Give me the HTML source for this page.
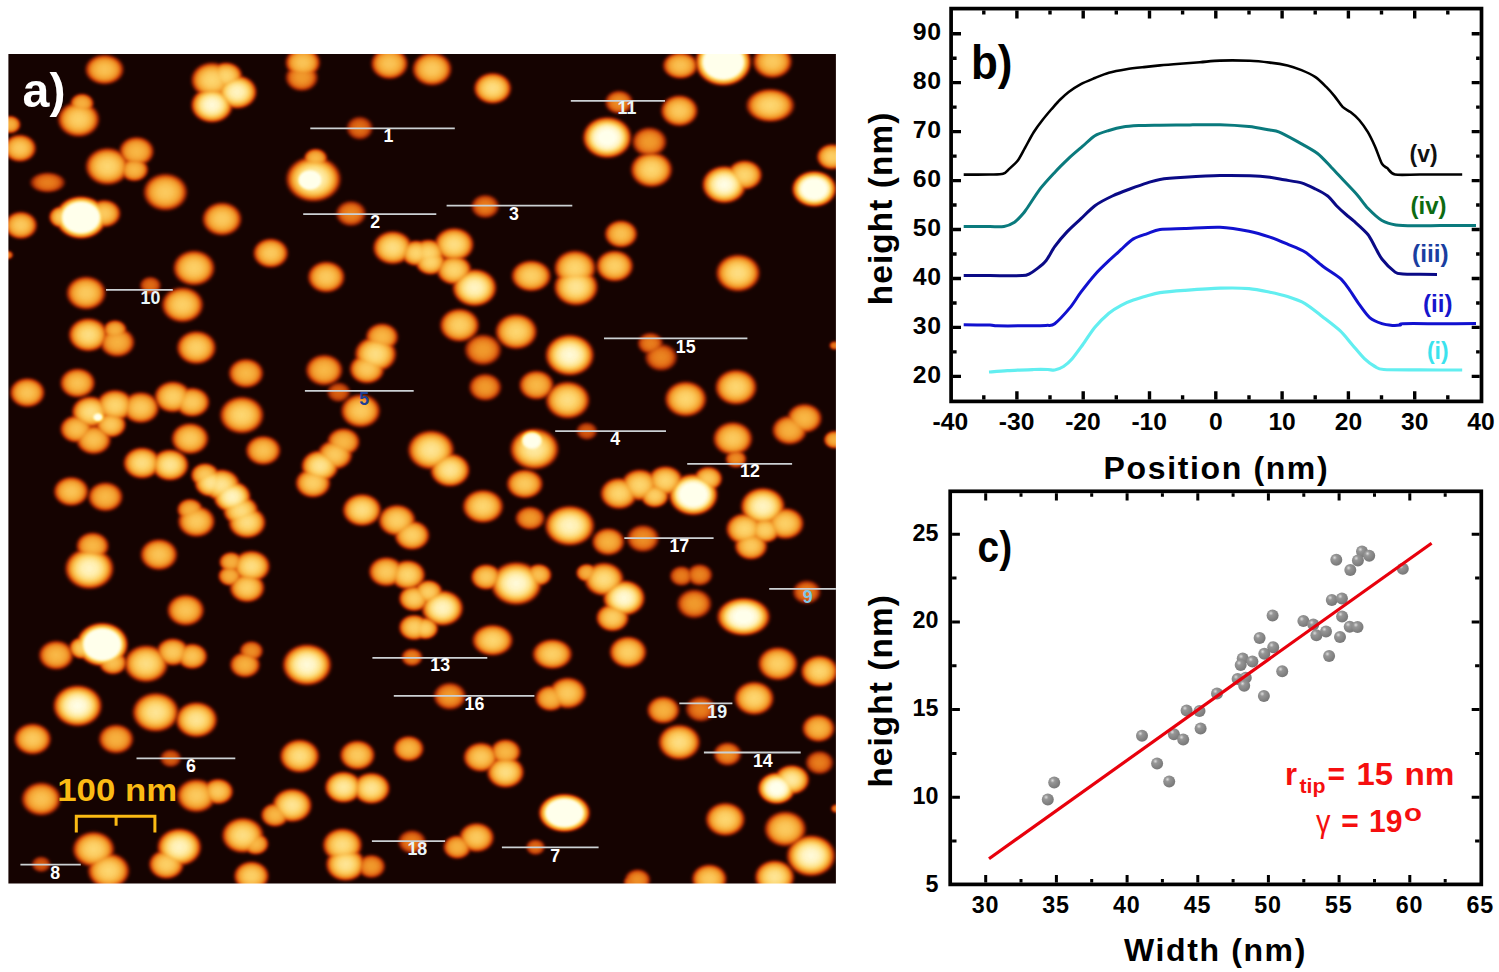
<!DOCTYPE html>
<html><head><meta charset="utf-8"><title>figure</title>
<style>html,body{margin:0;padding:0;background:#fff}body{width:1499px;height:972px;overflow:hidden;position:relative}svg{position:absolute;left:0;top:0;display:block}text{font-family:"Liberation Sans",sans-serif}.b{mix-blend-mode:lighten}</style></head><body>
<svg width="1499" height="972" viewBox="0 0 1499 972">
<defs>
<filter id="cmap" x="0" y="0" width="1499" height="972" filterUnits="userSpaceOnUse" color-interpolation-filters="sRGB"><feGaussianBlur stdDeviation="0.9"/><feComponentTransfer><feFuncR type="table" tableValues="0.086 0.235 0.424 0.620 0.792 0.894 0.941 0.973 0.992 1.000 1.000"/><feFuncG type="table" tableValues="0.012 0.047 0.106 0.184 0.306 0.447 0.588 0.706 0.824 0.925 1.000"/><feFuncB type="table" tableValues="0.004 0.008 0.016 0.027 0.047 0.094 0.165 0.259 0.412 0.647 0.922"/></feComponentTransfer></filter>
<clipPath id="afmclip"><rect x="8.4" y="53.9" width="827.5" height="829.7"/></clipPath>
<radialGradient id="g40"><stop offset="0" stop-color="#707070"/><stop offset="0.3" stop-color="#6c6c6c"/><stop offset="0.5" stop-color="#636363"/><stop offset="0.65" stop-color="#545454"/><stop offset="0.78" stop-color="#3a3a3a"/><stop offset="0.88" stop-color="#1f1f1f"/><stop offset="0.95" stop-color="#0b0b0b"/><stop offset="1" stop-color="#000000"/></radialGradient>
<radialGradient id="g42"><stop offset="0" stop-color="#757575"/><stop offset="0.3" stop-color="#717171"/><stop offset="0.5" stop-color="#676767"/><stop offset="0.65" stop-color="#585858"/><stop offset="0.78" stop-color="#3d3d3d"/><stop offset="0.88" stop-color="#212121"/><stop offset="0.95" stop-color="#0c0c0c"/><stop offset="1" stop-color="#000000"/></radialGradient>
<radialGradient id="g45"><stop offset="0" stop-color="#7d7d7d"/><stop offset="0.3" stop-color="#787878"/><stop offset="0.5" stop-color="#6e6e6e"/><stop offset="0.65" stop-color="#5e5e5e"/><stop offset="0.78" stop-color="#414141"/><stop offset="0.88" stop-color="#232323"/><stop offset="0.95" stop-color="#0c0c0c"/><stop offset="1" stop-color="#000000"/></radialGradient>
<radialGradient id="g46"><stop offset="0" stop-color="#808080"/><stop offset="0.3" stop-color="#7a7a7a"/><stop offset="0.5" stop-color="#707070"/><stop offset="0.65" stop-color="#606060"/><stop offset="0.78" stop-color="#424242"/><stop offset="0.88" stop-color="#242424"/><stop offset="0.95" stop-color="#0d0d0d"/><stop offset="1" stop-color="#000000"/></radialGradient>
<radialGradient id="g50"><stop offset="0" stop-color="#8a8a8a"/><stop offset="0.3" stop-color="#848484"/><stop offset="0.5" stop-color="#797979"/><stop offset="0.65" stop-color="#676767"/><stop offset="0.78" stop-color="#484848"/><stop offset="0.88" stop-color="#272727"/><stop offset="0.95" stop-color="#0e0e0e"/><stop offset="1" stop-color="#000000"/></radialGradient>
<radialGradient id="g52"><stop offset="0" stop-color="#8f8f8f"/><stop offset="0.3" stop-color="#898989"/><stop offset="0.5" stop-color="#7e7e7e"/><stop offset="0.65" stop-color="#6b6b6b"/><stop offset="0.78" stop-color="#4a4a4a"/><stop offset="0.88" stop-color="#282828"/><stop offset="0.95" stop-color="#0e0e0e"/><stop offset="1" stop-color="#000000"/></radialGradient>
<radialGradient id="g55"><stop offset="0" stop-color="#969696"/><stop offset="0.3" stop-color="#909090"/><stop offset="0.5" stop-color="#848484"/><stop offset="0.65" stop-color="#717171"/><stop offset="0.78" stop-color="#4e4e4e"/><stop offset="0.88" stop-color="#2a2a2a"/><stop offset="0.95" stop-color="#0f0f0f"/><stop offset="1" stop-color="#000000"/></radialGradient>
<radialGradient id="g58"><stop offset="0" stop-color="#9e9e9e"/><stop offset="0.3" stop-color="#989898"/><stop offset="0.5" stop-color="#8b8b8b"/><stop offset="0.65" stop-color="#777777"/><stop offset="0.78" stop-color="#525252"/><stop offset="0.88" stop-color="#2c2c2c"/><stop offset="0.95" stop-color="#101010"/><stop offset="1" stop-color="#000000"/></radialGradient>
<radialGradient id="g60"><stop offset="0" stop-color="#b2b2b2"/><stop offset="0.3" stop-color="#ababab"/><stop offset="0.5" stop-color="#9d9d9d"/><stop offset="0.65" stop-color="#868686"/><stop offset="0.78" stop-color="#5d5d5d"/><stop offset="0.88" stop-color="#323232"/><stop offset="0.95" stop-color="#121212"/><stop offset="1" stop-color="#000000"/></radialGradient>
<radialGradient id="g62"><stop offset="0" stop-color="#b8b8b8"/><stop offset="0.3" stop-color="#b0b0b0"/><stop offset="0.5" stop-color="#a2a2a2"/><stop offset="0.65" stop-color="#8a8a8a"/><stop offset="0.78" stop-color="#5f5f5f"/><stop offset="0.88" stop-color="#333333"/><stop offset="0.95" stop-color="#121212"/><stop offset="1" stop-color="#000000"/></radialGradient>
<radialGradient id="g65"><stop offset="0" stop-color="#bfbfbf"/><stop offset="0.3" stop-color="#b8b8b8"/><stop offset="0.5" stop-color="#a8a8a8"/><stop offset="0.65" stop-color="#8f8f8f"/><stop offset="0.78" stop-color="#636363"/><stop offset="0.88" stop-color="#363636"/><stop offset="0.95" stop-color="#131313"/><stop offset="1" stop-color="#000000"/></radialGradient>
<radialGradient id="g66"><stop offset="0" stop-color="#c2c2c2"/><stop offset="0.3" stop-color="#bababa"/><stop offset="0.5" stop-color="#ababab"/><stop offset="0.65" stop-color="#919191"/><stop offset="0.78" stop-color="#656565"/><stop offset="0.88" stop-color="#363636"/><stop offset="0.95" stop-color="#131313"/><stop offset="1" stop-color="#000000"/></radialGradient>
<radialGradient id="g68"><stop offset="0" stop-color="#c7c7c7"/><stop offset="0.3" stop-color="#bfbfbf"/><stop offset="0.5" stop-color="#afafaf"/><stop offset="0.65" stop-color="#959595"/><stop offset="0.78" stop-color="#676767"/><stop offset="0.88" stop-color="#383838"/><stop offset="0.95" stop-color="#141414"/><stop offset="1" stop-color="#000000"/></radialGradient>
<radialGradient id="g70"><stop offset="0" stop-color="#cccccc"/><stop offset="0.3" stop-color="#c4c4c4"/><stop offset="0.5" stop-color="#b4b4b4"/><stop offset="0.65" stop-color="#999999"/><stop offset="0.78" stop-color="#6a6a6a"/><stop offset="0.88" stop-color="#393939"/><stop offset="0.95" stop-color="#141414"/><stop offset="1" stop-color="#000000"/></radialGradient>
<radialGradient id="g72"><stop offset="0" stop-color="#d1d1d1"/><stop offset="0.3" stop-color="#c9c9c9"/><stop offset="0.5" stop-color="#b8b8b8"/><stop offset="0.65" stop-color="#9d9d9d"/><stop offset="0.78" stop-color="#6d6d6d"/><stop offset="0.88" stop-color="#3b3b3b"/><stop offset="0.95" stop-color="#151515"/><stop offset="1" stop-color="#000000"/></radialGradient>
<radialGradient id="g75"><stop offset="0" stop-color="#d9d9d9"/><stop offset="0.3" stop-color="#d0d0d0"/><stop offset="0.5" stop-color="#bfbfbf"/><stop offset="0.65" stop-color="#a3a3a3"/><stop offset="0.78" stop-color="#717171"/><stop offset="0.88" stop-color="#3d3d3d"/><stop offset="0.95" stop-color="#161616"/><stop offset="1" stop-color="#000000"/></radialGradient>
<radialGradient id="g78"><stop offset="0" stop-color="#e0e0e0"/><stop offset="0.3" stop-color="#d7d7d7"/><stop offset="0.5" stop-color="#c5c5c5"/><stop offset="0.65" stop-color="#a8a8a8"/><stop offset="0.78" stop-color="#757575"/><stop offset="0.88" stop-color="#3f3f3f"/><stop offset="0.95" stop-color="#161616"/><stop offset="1" stop-color="#000000"/></radialGradient>
<radialGradient id="g80"><stop offset="0" stop-color="#e6e6e6"/><stop offset="0.3" stop-color="#dcdcdc"/><stop offset="0.5" stop-color="#cacaca"/><stop offset="0.65" stop-color="#acacac"/><stop offset="0.78" stop-color="#777777"/><stop offset="0.88" stop-color="#404040"/><stop offset="0.95" stop-color="#171717"/><stop offset="1" stop-color="#000000"/></radialGradient>
<radialGradient id="g85"><stop offset="0" stop-color="#f2f2f2"/><stop offset="0.3" stop-color="#e9e9e9"/><stop offset="0.5" stop-color="#d5d5d5"/><stop offset="0.65" stop-color="#b6b6b6"/><stop offset="0.78" stop-color="#7e7e7e"/><stop offset="0.88" stop-color="#444444"/><stop offset="0.95" stop-color="#181818"/><stop offset="1" stop-color="#000000"/></radialGradient>
<radialGradient id="g88"><stop offset="0" stop-color="#fafafa"/><stop offset="0.3" stop-color="#f0f0f0"/><stop offset="0.5" stop-color="#dcdcdc"/><stop offset="0.65" stop-color="#bbbbbb"/><stop offset="0.78" stop-color="#828282"/><stop offset="0.88" stop-color="#464646"/><stop offset="0.95" stop-color="#191919"/><stop offset="1" stop-color="#000000"/></radialGradient>
<radialGradient id="g90"><stop offset="0" stop-color="#ffffff"/><stop offset="0.3" stop-color="#f5f5f5"/><stop offset="0.5" stop-color="#e0e0e0"/><stop offset="0.65" stop-color="#bfbfbf"/><stop offset="0.78" stop-color="#858585"/><stop offset="0.88" stop-color="#474747"/><stop offset="0.95" stop-color="#1a1a1a"/><stop offset="1" stop-color="#000000"/></radialGradient>
<radialGradient id="g92"><stop offset="0" stop-color="#ffffff"/><stop offset="0.3" stop-color="#ffffff"/><stop offset="0.5" stop-color="#f0f0f0"/><stop offset="0.65" stop-color="#cdcdcd"/><stop offset="0.78" stop-color="#8e8e8e"/><stop offset="0.88" stop-color="#4c4c4c"/><stop offset="0.95" stop-color="#1b1b1b"/><stop offset="1" stop-color="#000000"/></radialGradient>
<radialGradient id="g95"><stop offset="0" stop-color="#ffffff"/><stop offset="0.3" stop-color="#ffffff"/><stop offset="0.5" stop-color="#ffffff"/><stop offset="0.65" stop-color="#e1e1e1"/><stop offset="0.78" stop-color="#9c9c9c"/><stop offset="0.88" stop-color="#545454"/><stop offset="0.95" stop-color="#1e1e1e"/><stop offset="1" stop-color="#000000"/></radialGradient>
<radialGradient id="g98"><stop offset="0" stop-color="#ffffff"/><stop offset="0.3" stop-color="#ffffff"/><stop offset="0.5" stop-color="#ffffff"/><stop offset="0.65" stop-color="#f5f5f5"/><stop offset="0.78" stop-color="#aaaaaa"/><stop offset="0.88" stop-color="#5b5b5b"/><stop offset="0.95" stop-color="#212121"/><stop offset="1" stop-color="#000000"/></radialGradient>
<radialGradient id="g100"><stop offset="0" stop-color="#ffffff"/><stop offset="0.3" stop-color="#ffffff"/><stop offset="0.5" stop-color="#ffffff"/><stop offset="0.65" stop-color="#ffffff"/><stop offset="0.78" stop-color="#b3b3b3"/><stop offset="0.88" stop-color="#606060"/><stop offset="0.95" stop-color="#222222"/><stop offset="1" stop-color="#000000"/></radialGradient>
<radialGradient id="sph" cx="0.36" cy="0.32" r="0.7"><stop offset="0" stop-color="#dcdcdc"/><stop offset="0.28" stop-color="#969696"/><stop offset="1" stop-color="#777"/></radialGradient>
</defs>
<g clip-path="url(#afmclip)"><g filter="url(#cmap)">
<rect x="0" y="40" width="850" height="860" fill="#000"/>
<ellipse class="b" cx="104.5" cy="69.5" rx="21.1" ry="16.5" fill="url(#g65)"/>
<ellipse class="b" cx="78.6" cy="119.3" rx="22.7" ry="19.3" fill="url(#g70)"/>
<ellipse class="b" cx="82.0" cy="103.5" rx="13.2" ry="11.2" fill="url(#g60)"/>
<ellipse class="b" cx="10.0" cy="124.6" rx="12.0" ry="10.1" fill="url(#g60)"/>
<ellipse class="b" cx="19.8" cy="148.2" rx="18.0" ry="15.2" fill="url(#g68)"/>
<ellipse class="b" cx="107.5" cy="166.4" rx="23.9" ry="20.3" fill="url(#g72)"/>
<ellipse class="b" cx="136.5" cy="151.4" rx="19.2" ry="16.2" fill="url(#g62)"/>
<ellipse class="b" cx="134.3" cy="169.6" rx="15.6" ry="13.2" fill="url(#g62)"/>
<ellipse class="b" cx="47.6" cy="182.5" rx="19.4" ry="11.4" fill="url(#g50)"/>
<ellipse class="b" cx="165.4" cy="192.1" rx="23.9" ry="20.3" fill="url(#g68)"/>
<ellipse class="b" cx="81.0" cy="217.5" rx="27.4" ry="22.8" fill="url(#g100)"/>
<ellipse class="b" cx="104.3" cy="213.5" rx="18.0" ry="15.2" fill="url(#g68)"/>
<ellipse class="b" cx="62.0" cy="217.0" rx="14.4" ry="12.2" fill="url(#g70)"/>
<ellipse class="b" cx="20.8" cy="225.3" rx="18.0" ry="15.2" fill="url(#g68)"/>
<ellipse class="b" cx="194.0" cy="268.0" rx="22.7" ry="19.3" fill="url(#g70)"/>
<ellipse class="b" cx="8.0" cy="255.0" rx="6.0" ry="5.1" fill="url(#g50)"/>
<ellipse class="b" cx="212.0" cy="80.0" rx="22.7" ry="19.3" fill="url(#g72)"/>
<ellipse class="b" cx="212.0" cy="105.0" rx="22.7" ry="19.3" fill="url(#g88)"/>
<ellipse class="b" cx="237.0" cy="92.0" rx="21.5" ry="18.3" fill="url(#g85)"/>
<ellipse class="b" cx="226.0" cy="76.0" rx="18.0" ry="15.2" fill="url(#g72)"/>
<ellipse class="b" cx="222.0" cy="219.0" rx="21.5" ry="18.3" fill="url(#g68)"/>
<ellipse class="b" cx="302.8" cy="62.6" rx="19.2" ry="16.2" fill="url(#g66)"/>
<ellipse class="b" cx="301.7" cy="77.5" rx="18.0" ry="15.2" fill="url(#g58)"/>
<ellipse class="b" cx="389.5" cy="63.6" rx="20.3" ry="17.2" fill="url(#g66)"/>
<ellipse class="b" cx="359.7" cy="128.1" rx="14.8" ry="13.1" fill="url(#g46)"/>
<ellipse class="b" cx="313.5" cy="179.0" rx="29.6" ry="24.5" fill="url(#g85)"/>
<ellipse class="b" cx="310.0" cy="180.0" rx="16.8" ry="14.2" fill="url(#g100)"/>
<ellipse class="b" cx="315.6" cy="158.5" rx="13.2" ry="11.2" fill="url(#g62)"/>
<ellipse class="b" cx="351.0" cy="213.5" rx="16.8" ry="14.2" fill="url(#g52)"/>
<ellipse class="b" cx="270.7" cy="253.1" rx="19.2" ry="16.2" fill="url(#g68)"/>
<ellipse class="b" cx="392.7" cy="247.7" rx="21.5" ry="18.3" fill="url(#g75)"/>
<ellipse class="b" cx="416.2" cy="253.1" rx="16.8" ry="14.2" fill="url(#g72)"/>
<ellipse class="b" cx="432.0" cy="69.0" rx="21.5" ry="18.3" fill="url(#g68)"/>
<ellipse class="b" cx="492.6" cy="88.3" rx="20.5" ry="17.1" fill="url(#g75)"/>
<ellipse class="b" cx="619.0" cy="102.2" rx="15.6" ry="13.2" fill="url(#g55)"/>
<ellipse class="b" cx="607.2" cy="137.5" rx="26.3" ry="22.3" fill="url(#g92)"/>
<ellipse class="b" cx="485.2" cy="206.4" rx="15.6" ry="13.2" fill="url(#g50)"/>
<ellipse class="b" cx="621.0" cy="234.0" rx="18.0" ry="15.2" fill="url(#g65)"/>
<ellipse class="b" cx="454.1" cy="244.5" rx="21.5" ry="18.3" fill="url(#g75)"/>
<ellipse class="b" cx="428.4" cy="253.1" rx="18.0" ry="15.2" fill="url(#g72)"/>
<ellipse class="b" cx="430.6" cy="262.0" rx="16.8" ry="14.2" fill="url(#g72)"/>
<ellipse class="b" cx="454.0" cy="270.0" rx="19.2" ry="16.2" fill="url(#g72)"/>
<ellipse class="b" cx="474.5" cy="287.7" rx="23.9" ry="20.3" fill="url(#g85)"/>
<ellipse class="b" cx="614.7" cy="266.0" rx="20.3" ry="17.2" fill="url(#g70)"/>
<ellipse class="b" cx="575.0" cy="268.0" rx="22.7" ry="19.3" fill="url(#g72)"/>
<ellipse class="b" cx="576.0" cy="287.0" rx="23.9" ry="20.3" fill="url(#g78)"/>
<ellipse class="b" cx="680.4" cy="65.5" rx="19.4" ry="14.8" fill="url(#g65)"/>
<ellipse class="b" cx="723.2" cy="62.0" rx="29.9" ry="25.4" fill="url(#g100)"/>
<ellipse class="b" cx="772.4" cy="61.5" rx="21.5" ry="18.3" fill="url(#g68)"/>
<ellipse class="b" cx="679.3" cy="110.7" rx="20.3" ry="17.2" fill="url(#g68)"/>
<ellipse class="b" cx="770.3" cy="105.4" rx="26.2" ry="18.2" fill="url(#g72)"/>
<ellipse class="b" cx="649.3" cy="141.8" rx="19.2" ry="16.2" fill="url(#g58)"/>
<ellipse class="b" cx="651.5" cy="169.6" rx="22.7" ry="19.3" fill="url(#g72)"/>
<ellipse class="b" cx="724.3" cy="184.6" rx="23.9" ry="20.3" fill="url(#g90)"/>
<ellipse class="b" cx="744.6" cy="175.0" rx="19.2" ry="16.2" fill="url(#g72)"/>
<ellipse class="b" cx="814.2" cy="188.9" rx="23.9" ry="19.4" fill="url(#g95)"/>
<ellipse class="b" cx="832.0" cy="156.8" rx="16.8" ry="14.2" fill="url(#g70)"/>
<ellipse class="b" cx="738.0" cy="273.0" rx="23.9" ry="20.3" fill="url(#g75)"/>
<ellipse class="b" cx="86.1" cy="293.0" rx="21.5" ry="18.3" fill="url(#g68)"/>
<ellipse class="b" cx="150.4" cy="285.5" rx="12.0" ry="10.1" fill="url(#g45)"/>
<ellipse class="b" cx="182.5" cy="304.8" rx="22.7" ry="19.3" fill="url(#g70)"/>
<ellipse class="b" cx="88.3" cy="334.8" rx="21.5" ry="18.3" fill="url(#g75)"/>
<ellipse class="b" cx="117.2" cy="342.3" rx="19.2" ry="16.2" fill="url(#g60)"/>
<ellipse class="b" cx="115.0" cy="330.0" rx="13.2" ry="11.2" fill="url(#g60)"/>
<ellipse class="b" cx="196.4" cy="347.6" rx="21.5" ry="18.3" fill="url(#g70)"/>
<ellipse class="b" cx="77.6" cy="383.0" rx="19.2" ry="16.2" fill="url(#g65)"/>
<ellipse class="b" cx="27.3" cy="392.6" rx="19.2" ry="16.2" fill="url(#g66)"/>
<ellipse class="b" cx="172.8" cy="396.9" rx="20.3" ry="17.2" fill="url(#g70)"/>
<ellipse class="b" cx="192.1" cy="402.2" rx="19.2" ry="16.2" fill="url(#g68)"/>
<ellipse class="b" cx="90.4" cy="411.9" rx="20.3" ry="17.2" fill="url(#g75)"/>
<ellipse class="b" cx="115.0" cy="405.4" rx="20.3" ry="17.2" fill="url(#g72)"/>
<ellipse class="b" cx="140.7" cy="407.6" rx="20.3" ry="17.2" fill="url(#g68)"/>
<ellipse class="b" cx="97.9" cy="417.2" rx="7.2" ry="6.1" fill="url(#g95)"/>
<ellipse class="b" cx="76.5" cy="429.0" rx="18.0" ry="15.2" fill="url(#g65)"/>
<ellipse class="b" cx="93.6" cy="439.7" rx="19.2" ry="16.2" fill="url(#g65)"/>
<ellipse class="b" cx="110.8" cy="424.7" rx="16.8" ry="14.2" fill="url(#g68)"/>
<ellipse class="b" cx="190.0" cy="438.6" rx="20.3" ry="17.2" fill="url(#g68)"/>
<ellipse class="b" cx="142.0" cy="463.0" rx="20.3" ry="17.2" fill="url(#g75)"/>
<ellipse class="b" cx="170.0" cy="465.0" rx="20.3" ry="17.2" fill="url(#g78)"/>
<ellipse class="b" cx="205.0" cy="475.0" rx="15.6" ry="13.2" fill="url(#g68)"/>
<ellipse class="b" cx="326.3" cy="277.0" rx="20.3" ry="17.2" fill="url(#g68)"/>
<ellipse class="b" cx="246.0" cy="373.3" rx="19.2" ry="16.2" fill="url(#g62)"/>
<ellipse class="b" cx="324.2" cy="370.1" rx="20.3" ry="17.2" fill="url(#g62)"/>
<ellipse class="b" cx="382.0" cy="336.9" rx="18.0" ry="15.2" fill="url(#g62)"/>
<ellipse class="b" cx="375.6" cy="354.1" rx="22.7" ry="19.3" fill="url(#g75)"/>
<ellipse class="b" cx="367.0" cy="369.0" rx="19.2" ry="16.2" fill="url(#g68)"/>
<ellipse class="b" cx="338.7" cy="392.2" rx="13.2" ry="11.2" fill="url(#g42)"/>
<ellipse class="b" cx="360.6" cy="410.8" rx="21.5" ry="18.3" fill="url(#g68)"/>
<ellipse class="b" cx="241.8" cy="415.1" rx="23.9" ry="20.3" fill="url(#g72)"/>
<ellipse class="b" cx="263.2" cy="450.4" rx="19.2" ry="16.2" fill="url(#g65)"/>
<ellipse class="b" cx="343.5" cy="441.8" rx="18.0" ry="15.2" fill="url(#g62)"/>
<ellipse class="b" cx="334.9" cy="454.7" rx="19.2" ry="16.2" fill="url(#g68)"/>
<ellipse class="b" cx="320.0" cy="466.0" rx="20.3" ry="17.2" fill="url(#g78)"/>
<ellipse class="b" cx="313.0" cy="483.0" rx="19.2" ry="16.2" fill="url(#g70)"/>
<ellipse class="b" cx="531.2" cy="275.9" rx="21.7" ry="17.1" fill="url(#g70)"/>
<ellipse class="b" cx="459.5" cy="325.2" rx="21.5" ry="18.3" fill="url(#g70)"/>
<ellipse class="b" cx="516.2" cy="331.6" rx="22.7" ry="19.3" fill="url(#g72)"/>
<ellipse class="b" cx="483.0" cy="349.8" rx="20.3" ry="17.2" fill="url(#g58)"/>
<ellipse class="b" cx="569.7" cy="355.1" rx="26.3" ry="22.3" fill="url(#g88)"/>
<ellipse class="b" cx="485.2" cy="387.2" rx="18.0" ry="15.2" fill="url(#g58)"/>
<ellipse class="b" cx="536.5" cy="385.1" rx="19.2" ry="16.2" fill="url(#g62)"/>
<ellipse class="b" cx="567.6" cy="400.1" rx="23.9" ry="20.3" fill="url(#g75)"/>
<ellipse class="b" cx="586.8" cy="431.1" rx="12.0" ry="10.1" fill="url(#g40)"/>
<ellipse class="b" cx="534.4" cy="449.0" rx="26.3" ry="22.3" fill="url(#g80)"/>
<ellipse class="b" cx="532.0" cy="441.0" rx="14.4" ry="12.2" fill="url(#g98)"/>
<ellipse class="b" cx="431.0" cy="450.0" rx="25.1" ry="21.3" fill="url(#g78)"/>
<ellipse class="b" cx="450.0" cy="470.0" rx="21.5" ry="18.3" fill="url(#g78)"/>
<ellipse class="b" cx="650.4" cy="343.4" rx="14.4" ry="12.2" fill="url(#g50)"/>
<ellipse class="b" cx="661.1" cy="357.3" rx="18.0" ry="15.2" fill="url(#g52)"/>
<ellipse class="b" cx="736.0" cy="387.2" rx="22.7" ry="19.3" fill="url(#g72)"/>
<ellipse class="b" cx="685.7" cy="399.0" rx="22.7" ry="19.3" fill="url(#g72)"/>
<ellipse class="b" cx="804.5" cy="418.3" rx="19.2" ry="16.2" fill="url(#g62)"/>
<ellipse class="b" cx="789.6" cy="430.1" rx="19.2" ry="16.2" fill="url(#g60)"/>
<ellipse class="b" cx="732.8" cy="438.6" rx="21.5" ry="18.3" fill="url(#g68)"/>
<ellipse class="b" cx="736.0" cy="459.0" rx="12.0" ry="10.1" fill="url(#g55)"/>
<ellipse class="b" cx="834.5" cy="439.7" rx="12.0" ry="10.1" fill="url(#g60)"/>
<ellipse class="b" cx="834.5" cy="345.5" rx="6.0" ry="5.1" fill="url(#g50)"/>
<ellipse class="b" cx="71.2" cy="491.4" rx="19.2" ry="16.2" fill="url(#g66)"/>
<ellipse class="b" cx="105.4" cy="496.8" rx="19.2" ry="16.2" fill="url(#g62)"/>
<ellipse class="b" cx="190.0" cy="509.6" rx="14.4" ry="12.2" fill="url(#g60)"/>
<ellipse class="b" cx="196.4" cy="521.4" rx="20.3" ry="17.2" fill="url(#g68)"/>
<ellipse class="b" cx="158.9" cy="554.6" rx="20.3" ry="17.2" fill="url(#g66)"/>
<ellipse class="b" cx="92.6" cy="546.0" rx="18.0" ry="15.2" fill="url(#g62)"/>
<ellipse class="b" cx="89.4" cy="568.5" rx="26.3" ry="22.3" fill="url(#g85)"/>
<ellipse class="b" cx="185.7" cy="610.2" rx="20.3" ry="17.2" fill="url(#g66)"/>
<ellipse class="b" cx="102.2" cy="644.5" rx="27.5" ry="23.3" fill="url(#g100)"/>
<ellipse class="b" cx="112.9" cy="662.7" rx="15.6" ry="13.2" fill="url(#g65)"/>
<ellipse class="b" cx="82.0" cy="648.0" rx="14.4" ry="12.2" fill="url(#g70)"/>
<ellipse class="b" cx="56.2" cy="655.2" rx="19.2" ry="16.2" fill="url(#g62)"/>
<ellipse class="b" cx="146.1" cy="663.7" rx="23.9" ry="20.3" fill="url(#g75)"/>
<ellipse class="b" cx="172.8" cy="652.0" rx="18.0" ry="15.2" fill="url(#g68)"/>
<ellipse class="b" cx="192.1" cy="656.3" rx="16.8" ry="14.2" fill="url(#g66)"/>
<ellipse class="b" cx="211.0" cy="483.0" rx="18.0" ry="15.2" fill="url(#g78)"/>
<ellipse class="b" cx="221.4" cy="485.0" rx="20.3" ry="17.2" fill="url(#g78)"/>
<ellipse class="b" cx="232.1" cy="496.8" rx="20.3" ry="17.2" fill="url(#g85)"/>
<ellipse class="b" cx="240.7" cy="510.7" rx="19.2" ry="16.2" fill="url(#g75)"/>
<ellipse class="b" cx="247.1" cy="522.5" rx="20.3" ry="17.2" fill="url(#g75)"/>
<ellipse class="b" cx="362.0" cy="510.0" rx="21.1" ry="17.7" fill="url(#g75)"/>
<ellipse class="b" cx="397.0" cy="520.3" rx="20.3" ry="17.2" fill="url(#g70)"/>
<ellipse class="b" cx="412.0" cy="535.3" rx="19.2" ry="16.2" fill="url(#g70)"/>
<ellipse class="b" cx="231.0" cy="562.0" rx="13.2" ry="11.2" fill="url(#g60)"/>
<ellipse class="b" cx="251.4" cy="566.3" rx="20.3" ry="17.2" fill="url(#g75)"/>
<ellipse class="b" cx="230.0" cy="576.0" rx="13.2" ry="11.2" fill="url(#g60)"/>
<ellipse class="b" cx="247.1" cy="587.7" rx="19.2" ry="16.2" fill="url(#g70)"/>
<ellipse class="b" cx="386.3" cy="571.7" rx="19.2" ry="16.2" fill="url(#g68)"/>
<ellipse class="b" cx="407.7" cy="574.9" rx="19.2" ry="16.2" fill="url(#g72)"/>
<ellipse class="b" cx="414.1" cy="598.5" rx="16.8" ry="14.2" fill="url(#g70)"/>
<ellipse class="b" cx="428.4" cy="592.0" rx="15.6" ry="13.2" fill="url(#g70)"/>
<ellipse class="b" cx="442.3" cy="608.1" rx="22.7" ry="19.3" fill="url(#g85)"/>
<ellipse class="b" cx="425.2" cy="628.4" rx="14.4" ry="12.2" fill="url(#g70)"/>
<ellipse class="b" cx="414.1" cy="627.4" rx="16.8" ry="14.2" fill="url(#g70)"/>
<ellipse class="b" cx="412.0" cy="657.3" rx="12.0" ry="10.1" fill="url(#g52)"/>
<ellipse class="b" cx="251.4" cy="650.9" rx="13.2" ry="11.2" fill="url(#g55)"/>
<ellipse class="b" cx="245.0" cy="664.8" rx="16.8" ry="14.2" fill="url(#g60)"/>
<ellipse class="b" cx="307.0" cy="664.8" rx="26.3" ry="22.3" fill="url(#g88)"/>
<ellipse class="b" cx="524.8" cy="483.9" rx="19.9" ry="16.0" fill="url(#g68)"/>
<ellipse class="b" cx="483.0" cy="506.4" rx="22.2" ry="18.2" fill="url(#g72)"/>
<ellipse class="b" cx="530.1" cy="518.2" rx="16.5" ry="13.1" fill="url(#g58)"/>
<ellipse class="b" cx="569.7" cy="525.7" rx="26.8" ry="21.7" fill="url(#g85)"/>
<ellipse class="b" cx="619.0" cy="493.5" rx="20.3" ry="17.2" fill="url(#g72)"/>
<ellipse class="b" cx="608.3" cy="541.7" rx="18.0" ry="15.2" fill="url(#g60)"/>
<ellipse class="b" cx="486.2" cy="577.0" rx="16.8" ry="14.2" fill="url(#g68)"/>
<ellipse class="b" cx="516.2" cy="583.5" rx="27.5" ry="23.3" fill="url(#g88)"/>
<ellipse class="b" cx="538.7" cy="574.9" rx="14.4" ry="12.2" fill="url(#g65)"/>
<ellipse class="b" cx="604.0" cy="579.2" rx="21.5" ry="18.3" fill="url(#g75)"/>
<ellipse class="b" cx="586.8" cy="572.8" rx="12.0" ry="10.1" fill="url(#g60)"/>
<ellipse class="b" cx="624.0" cy="598.0" rx="22.7" ry="19.3" fill="url(#g88)"/>
<ellipse class="b" cx="612.5" cy="617.7" rx="18.0" ry="15.2" fill="url(#g70)"/>
<ellipse class="b" cx="492.6" cy="640.2" rx="22.2" ry="17.1" fill="url(#g72)"/>
<ellipse class="b" cx="552.3" cy="654.1" rx="21.7" ry="16.5" fill="url(#g70)"/>
<ellipse class="b" cx="628.0" cy="652.0" rx="20.3" ry="17.2" fill="url(#g70)"/>
<ellipse class="b" cx="639.7" cy="485.0" rx="20.3" ry="17.2" fill="url(#g72)"/>
<ellipse class="b" cx="665.4" cy="480.7" rx="19.2" ry="16.2" fill="url(#g72)"/>
<ellipse class="b" cx="654.7" cy="495.7" rx="15.6" ry="13.2" fill="url(#g70)"/>
<ellipse class="b" cx="693.2" cy="494.6" rx="26.3" ry="22.3" fill="url(#g95)"/>
<ellipse class="b" cx="708.2" cy="478.6" rx="15.6" ry="13.2" fill="url(#g68)"/>
<ellipse class="b" cx="762.8" cy="506.4" rx="23.9" ry="20.3" fill="url(#g85)"/>
<ellipse class="b" cx="744.6" cy="528.9" rx="20.3" ry="17.2" fill="url(#g72)"/>
<ellipse class="b" cx="751.0" cy="546.0" rx="18.0" ry="15.2" fill="url(#g68)"/>
<ellipse class="b" cx="785.3" cy="523.5" rx="20.3" ry="17.2" fill="url(#g70)"/>
<ellipse class="b" cx="765.0" cy="530.0" rx="16.8" ry="14.2" fill="url(#g70)"/>
<ellipse class="b" cx="642.9" cy="538.5" rx="18.0" ry="15.2" fill="url(#g55)"/>
<ellipse class="b" cx="681.5" cy="576.0" rx="13.2" ry="11.2" fill="url(#g50)"/>
<ellipse class="b" cx="699.6" cy="574.9" rx="14.4" ry="12.2" fill="url(#g52)"/>
<ellipse class="b" cx="694.3" cy="603.8" rx="19.2" ry="16.2" fill="url(#g58)"/>
<ellipse class="b" cx="743.5" cy="616.7" rx="28.5" ry="20.5" fill="url(#g92)"/>
<ellipse class="b" cx="806.7" cy="592.0" rx="15.6" ry="13.2" fill="url(#g50)"/>
<ellipse class="b" cx="777.8" cy="663.7" rx="21.5" ry="18.3" fill="url(#g70)"/>
<ellipse class="b" cx="819.5" cy="671.2" rx="20.3" ry="17.2" fill="url(#g72)"/>
<ellipse class="b" cx="77.6" cy="705.8" rx="26.3" ry="22.3" fill="url(#g90)"/>
<ellipse class="b" cx="155.7" cy="712.3" rx="25.1" ry="21.3" fill="url(#g78)"/>
<ellipse class="b" cx="196.4" cy="719.7" rx="22.7" ry="19.3" fill="url(#g78)"/>
<ellipse class="b" cx="32.6" cy="739.0" rx="20.3" ry="17.2" fill="url(#g68)"/>
<ellipse class="b" cx="116.1" cy="739.0" rx="19.2" ry="16.2" fill="url(#g60)"/>
<ellipse class="b" cx="170.7" cy="758.3" rx="12.0" ry="10.1" fill="url(#g42)"/>
<ellipse class="b" cx="41.2" cy="799.0" rx="21.5" ry="18.3" fill="url(#g65)"/>
<ellipse class="b" cx="196.4" cy="795.7" rx="21.5" ry="18.3" fill="url(#g68)"/>
<ellipse class="b" cx="218.0" cy="791.5" rx="16.8" ry="14.2" fill="url(#g68)"/>
<ellipse class="b" cx="93.6" cy="849.3" rx="22.7" ry="19.3" fill="url(#g72)"/>
<ellipse class="b" cx="108.6" cy="870.7" rx="22.7" ry="19.3" fill="url(#g72)"/>
<ellipse class="b" cx="179.3" cy="847.1" rx="23.9" ry="20.3" fill="url(#g85)"/>
<ellipse class="b" cx="166.4" cy="864.3" rx="19.2" ry="16.2" fill="url(#g70)"/>
<ellipse class="b" cx="41.2" cy="864.3" rx="10.8" ry="9.1" fill="url(#g40)"/>
<ellipse class="b" cx="299.6" cy="756.1" rx="21.5" ry="18.3" fill="url(#g75)"/>
<ellipse class="b" cx="357.4" cy="755.1" rx="19.2" ry="16.2" fill="url(#g68)"/>
<ellipse class="b" cx="408.7" cy="748.6" rx="16.8" ry="14.2" fill="url(#g62)"/>
<ellipse class="b" cx="343.5" cy="787.2" rx="20.3" ry="17.2" fill="url(#g80)"/>
<ellipse class="b" cx="371.3" cy="788.3" rx="20.3" ry="17.2" fill="url(#g78)"/>
<ellipse class="b" cx="292.1" cy="805.4" rx="21.5" ry="18.3" fill="url(#g78)"/>
<ellipse class="b" cx="275.0" cy="815.0" rx="15.6" ry="13.2" fill="url(#g62)"/>
<ellipse class="b" cx="242.8" cy="835.4" rx="22.7" ry="19.3" fill="url(#g75)"/>
<ellipse class="b" cx="255.7" cy="843.9" rx="14.4" ry="12.2" fill="url(#g62)"/>
<ellipse class="b" cx="342.4" cy="845.0" rx="21.5" ry="18.3" fill="url(#g75)"/>
<ellipse class="b" cx="345.6" cy="864.3" rx="21.5" ry="18.3" fill="url(#g78)"/>
<ellipse class="b" cx="371.3" cy="866.4" rx="15.6" ry="13.2" fill="url(#g58)"/>
<ellipse class="b" cx="412.0" cy="841.8" rx="15.6" ry="13.2" fill="url(#g50)"/>
<ellipse class="b" cx="251.4" cy="876.0" rx="19.2" ry="16.2" fill="url(#g70)"/>
<ellipse class="b" cx="449.8" cy="696.2" rx="18.0" ry="15.2" fill="url(#g58)"/>
<ellipse class="b" cx="567.6" cy="693.0" rx="20.3" ry="17.2" fill="url(#g68)"/>
<ellipse class="b" cx="550.5" cy="698.3" rx="16.8" ry="14.2" fill="url(#g62)"/>
<ellipse class="b" cx="480.9" cy="757.2" rx="19.2" ry="16.2" fill="url(#g68)"/>
<ellipse class="b" cx="505.5" cy="751.9" rx="16.8" ry="14.2" fill="url(#g62)"/>
<ellipse class="b" cx="505.5" cy="772.2" rx="20.3" ry="17.2" fill="url(#g75)"/>
<ellipse class="b" cx="564.4" cy="812.9" rx="27.4" ry="20.5" fill="url(#g100)"/>
<ellipse class="b" cx="476.6" cy="837.5" rx="19.2" ry="16.2" fill="url(#g68)"/>
<ellipse class="b" cx="457.3" cy="847.1" rx="15.6" ry="13.2" fill="url(#g60)"/>
<ellipse class="b" cx="535.5" cy="847.1" rx="10.8" ry="9.1" fill="url(#g45)"/>
<ellipse class="b" cx="632.0" cy="882.0" rx="9.6" ry="8.1" fill="url(#g50)"/>
<ellipse class="b" cx="663.3" cy="710.1" rx="18.0" ry="15.2" fill="url(#g60)"/>
<ellipse class="b" cx="700.7" cy="709.0" rx="16.8" ry="14.2" fill="url(#g50)"/>
<ellipse class="b" cx="754.2" cy="698.3" rx="21.5" ry="18.3" fill="url(#g72)"/>
<ellipse class="b" cx="818.5" cy="728.3" rx="18.0" ry="15.2" fill="url(#g62)"/>
<ellipse class="b" cx="679.3" cy="742.2" rx="22.7" ry="19.3" fill="url(#g75)"/>
<ellipse class="b" cx="727.5" cy="754.0" rx="15.6" ry="13.2" fill="url(#g55)"/>
<ellipse class="b" cx="819.5" cy="762.6" rx="15.6" ry="13.2" fill="url(#g50)"/>
<ellipse class="b" cx="776.7" cy="788.3" rx="20.3" ry="17.2" fill="url(#g92)"/>
<ellipse class="b" cx="791.7" cy="779.7" rx="19.2" ry="16.2" fill="url(#g80)"/>
<ellipse class="b" cx="725.3" cy="819.3" rx="21.5" ry="18.3" fill="url(#g72)"/>
<ellipse class="b" cx="785.3" cy="828.9" rx="22.7" ry="19.3" fill="url(#g68)"/>
<ellipse class="b" cx="811.0" cy="855.7" rx="26.3" ry="22.3" fill="url(#g88)"/>
<ellipse class="b" cx="836.0" cy="808.6" rx="6.0" ry="5.1" fill="url(#g50)"/>
<ellipse class="b" cx="637.6" cy="880.0" rx="14.4" ry="12.2" fill="url(#g55)"/>
<ellipse class="b" cx="709.3" cy="879.0" rx="19.2" ry="16.2" fill="url(#g68)"/>
<ellipse class="b" cx="774.6" cy="877.0" rx="21.5" ry="18.3" fill="url(#g78)"/>
</g>
<line x1="310.3" y1="128.3" x2="454.8" y2="128.3" stroke="#ccd1d4" stroke-width="1.8"/>
<line x1="303.2" y1="214.1" x2="436.3" y2="214.1" stroke="#ccd1d4" stroke-width="1.8"/>
<line x1="446.6" y1="205.6" x2="572.3" y2="205.6" stroke="#ccd1d4" stroke-width="1.8"/>
<line x1="555.2" y1="431.1" x2="666.0" y2="431.1" stroke="#ccd1d4" stroke-width="1.8"/>
<line x1="304.9" y1="390.9" x2="413.7" y2="390.9" stroke="#ccd1d4" stroke-width="1.8"/>
<line x1="136.5" y1="758.3" x2="235.3" y2="758.3" stroke="#ccd1d4" stroke-width="1.8"/>
<line x1="501.9" y1="847.3" x2="598.6" y2="847.3" stroke="#ccd1d4" stroke-width="1.8"/>
<line x1="20.4" y1="864.7" x2="80.8" y2="864.7" stroke="#ccd1d4" stroke-width="1.8"/>
<line x1="769.2" y1="588.8" x2="836.0" y2="588.8" stroke="#ccd1d4" stroke-width="1.8"/>
<line x1="106.0" y1="289.8" x2="172.8" y2="289.8" stroke="#ccd1d4" stroke-width="1.8"/>
<line x1="570.8" y1="100.9" x2="665.0" y2="100.9" stroke="#ccd1d4" stroke-width="1.8"/>
<line x1="687.2" y1="463.9" x2="792.1" y2="463.9" stroke="#ccd1d4" stroke-width="1.8"/>
<line x1="372.4" y1="657.8" x2="487.3" y2="657.8" stroke="#ccd1d4" stroke-width="1.8"/>
<line x1="703.9" y1="752.5" x2="800.7" y2="752.5" stroke="#ccd1d4" stroke-width="1.8"/>
<line x1="604.0" y1="338.4" x2="747.4" y2="338.4" stroke="#ccd1d4" stroke-width="1.8"/>
<line x1="393.8" y1="695.8" x2="534.4" y2="695.8" stroke="#ccd1d4" stroke-width="1.8"/>
<line x1="624.3" y1="538.1" x2="713.6" y2="538.1" stroke="#ccd1d4" stroke-width="1.8"/>
<line x1="371.9" y1="841.1" x2="445.1" y2="841.1" stroke="#ccd1d4" stroke-width="1.8"/>
<line x1="679.3" y1="703.3" x2="732.4" y2="703.3" stroke="#ccd1d4" stroke-width="1.8"/>
<text x="388.4" y="141.8" font-size="17.8" font-weight="bold" fill="#fff" text-anchor="middle">1</text>
<text x="375.1" y="228.4" font-size="17.8" font-weight="bold" fill="#fff" text-anchor="middle">2</text>
<text x="514.0" y="219.9" font-size="17.8" font-weight="bold" fill="#fff" text-anchor="middle">3</text>
<text x="615.3" y="445.0" font-size="17.8" font-weight="bold" fill="#fff" text-anchor="middle">4</text>
<text x="364.2" y="405.0" font-size="17.8" font-weight="bold" fill="#1c3f94" text-anchor="middle">5</text>
<text x="191.0" y="772.2" font-size="17.8" font-weight="bold" fill="#fff" text-anchor="middle">6</text>
<text x="555.2" y="861.7" font-size="17.8" font-weight="bold" fill="#fff" text-anchor="middle">7</text>
<text x="55.1" y="879.2" font-size="17.8" font-weight="bold" fill="#fff" text-anchor="middle">8</text>
<text x="807.8" y="602.7" font-size="17.8" font-weight="bold" fill="#7fc6e6" text-anchor="middle">9</text>
<text x="150.4" y="303.7" font-size="17.8" font-weight="bold" fill="#e8f6fa" text-anchor="middle">10</text>
<text x="627.0" y="113.9" font-size="17.8" font-weight="bold" fill="#e8f6fa" text-anchor="middle">11</text>
<text x="750.0" y="477.4" font-size="17.8" font-weight="bold" fill="#fff" text-anchor="middle">12</text>
<text x="440.2" y="671.2" font-size="17.8" font-weight="bold" fill="#fff" text-anchor="middle">13</text>
<text x="762.8" y="767.3" font-size="17.8" font-weight="bold" fill="#fff" text-anchor="middle">14</text>
<text x="685.7" y="352.5" font-size="17.8" font-weight="bold" fill="#fff" text-anchor="middle">15</text>
<text x="474.5" y="709.7" font-size="17.8" font-weight="bold" fill="#fff" text-anchor="middle">16</text>
<text x="679.3" y="551.8" font-size="17.8" font-weight="bold" fill="#fff" text-anchor="middle">17</text>
<text x="417.3" y="854.6" font-size="17.8" font-weight="bold" fill="#e8f6fa" text-anchor="middle">18</text>
<text x="717.2" y="717.6" font-size="17.8" font-weight="bold" fill="#e8f6fa" text-anchor="middle">19</text>
</g>
<text x="22.6" y="107" font-size="49" font-weight="bold" fill="#fff" textLength="43" lengthAdjust="spacingAndGlyphs">a)</text>
<text x="57.2" y="801.1" font-size="31.5" font-weight="bold" fill="#fbbb14" textLength="120" lengthAdjust="spacingAndGlyphs">100 nm</text>
<path d="M76.3 832.6V816.2H154.9V832.6M116.1 816.2V825.7" fill="none" stroke="#fbbb14" stroke-width="3"/><path d="M983.8 399.5 v-4.2M983.8 10.4 v4.2M1016.9 399.5 v-8.2M1016.9 10.4 v8.2M1050.0 399.5 v-4.2M1050.0 10.4 v4.2M1083.2 399.5 v-8.2M1083.2 10.4 v8.2M1116.3 399.5 v-4.2M1116.3 10.4 v4.2M1149.5 399.5 v-8.2M1149.5 10.4 v8.2M1182.6 399.5 v-4.2M1182.6 10.4 v4.2M1215.8 399.5 v-8.2M1215.8 10.4 v8.2M1249.0 399.5 v-4.2M1249.0 10.4 v4.2M1282.1 399.5 v-8.2M1282.1 10.4 v8.2M1315.2 399.5 v-4.2M1315.2 10.4 v4.2M1348.4 399.5 v-8.2M1348.4 10.4 v8.2M1381.5 399.5 v-4.2M1381.5 10.4 v4.2M1414.7 399.5 v-8.2M1414.7 10.4 v8.2M1447.8 399.5 v-4.2M1447.8 10.4 v4.2M953.0 376.4 h8.0M1479.7 376.4 h-8.0M953.0 351.9 h3.6M1479.7 351.9 h-3.6M953.0 327.4 h8.0M1479.7 327.4 h-8.0M953.0 303.0 h3.6M1479.7 303.0 h-3.6M953.0 278.5 h8.0M1479.7 278.5 h-8.0M953.0 254.0 h3.6M1479.7 254.0 h-3.6M953.0 229.5 h8.0M1479.7 229.5 h-8.0M953.0 205.0 h3.6M1479.7 205.0 h-3.6M953.0 180.6 h8.0M1479.7 180.6 h-8.0M953.0 156.1 h3.6M1479.7 156.1 h-3.6M953.0 131.6 h8.0M1479.7 131.6 h-8.0M953.0 107.1 h3.6M1479.7 107.1 h-3.6M953.0 82.6 h8.0M1479.7 82.6 h-8.0M953.0 58.2 h3.6M1479.7 58.2 h-3.6M953.0 33.7 h8.0M1479.7 33.7 h-8.0" stroke="#000" stroke-width="3.4" fill="none"/>
<rect x="951.1" y="8.6" width="530.4" height="392.8" fill="none" stroke="#000" stroke-width="3.7"/>
<text x="941.8" y="382.6" font-size="24.8" font-weight="bold" text-anchor="end" letter-spacing="0.7">20</text>
<text x="941.8" y="333.6" font-size="24.8" font-weight="bold" text-anchor="end" letter-spacing="0.7">30</text>
<text x="941.8" y="284.7" font-size="24.8" font-weight="bold" text-anchor="end" letter-spacing="0.7">40</text>
<text x="941.8" y="235.7" font-size="24.8" font-weight="bold" text-anchor="end" letter-spacing="0.7">50</text>
<text x="941.8" y="186.8" font-size="24.8" font-weight="bold" text-anchor="end" letter-spacing="0.7">60</text>
<text x="941.8" y="137.8" font-size="24.8" font-weight="bold" text-anchor="end" letter-spacing="0.7">70</text>
<text x="941.8" y="88.8" font-size="24.8" font-weight="bold" text-anchor="end" letter-spacing="0.7">80</text>
<text x="941.8" y="39.9" font-size="24.8" font-weight="bold" text-anchor="end" letter-spacing="0.7">90</text>
<text x="950.3" y="430" font-size="24.6" font-weight="bold" text-anchor="middle">-40</text>
<text x="1016.6" y="430" font-size="24.6" font-weight="bold" text-anchor="middle">-30</text>
<text x="1082.9" y="430" font-size="24.6" font-weight="bold" text-anchor="middle">-20</text>
<text x="1149.2" y="430" font-size="24.6" font-weight="bold" text-anchor="middle">-10</text>
<text x="1215.8" y="430" font-size="24.6" font-weight="bold" text-anchor="middle">0</text>
<text x="1282.1" y="430" font-size="24.6" font-weight="bold" text-anchor="middle">10</text>
<text x="1348.4" y="430" font-size="24.6" font-weight="bold" text-anchor="middle">20</text>
<text x="1414.7" y="430" font-size="24.6" font-weight="bold" text-anchor="middle">30</text>
<text x="1481.0" y="430" font-size="24.6" font-weight="bold" text-anchor="middle">40</text>
<text x="1103.6" y="479.4" font-size="32" font-weight="bold" textLength="224" lengthAdjust="spacing">Position (nm)</text>
<text transform="translate(892.4,305.2) rotate(-90)" font-size="33.4" font-weight="bold" textLength="192.5" lengthAdjust="spacing">height (nm)</text>
<text x="971" y="78.9" font-size="47.5" font-weight="bold" textLength="41.5" lengthAdjust="spacingAndGlyphs">b)</text>
<path d="M989.0 372.0C991.6 371.8 1001.2 371.0 1007.5 370.6C1013.8 370.2 1028.1 369.7 1033.7 369.5C1039.3 369.3 1044.8 369.4 1047.7 369.5C1050.6 369.6 1052.5 370.4 1054.7 370.0C1056.9 369.6 1061.0 368.1 1063.5 366.5C1066.0 364.9 1069.5 361.8 1072.2 358.7C1074.9 355.6 1079.5 349.1 1082.7 344.7C1085.9 340.3 1091.2 331.6 1094.9 327.2C1098.6 322.8 1105.2 316.3 1108.9 313.2C1112.6 310.1 1117.8 307.1 1121.2 305.3C1124.6 303.5 1129.7 301.4 1133.4 300.1C1137.1 298.8 1143.7 296.8 1147.4 295.7C1151.1 294.6 1154.8 293.3 1160.0 292.6C1165.2 291.9 1176.1 291.0 1184.5 290.4C1192.9 289.8 1211.0 288.5 1220.0 288.2C1229.0 287.9 1242.0 288.0 1249.0 288.6C1256.0 289.2 1264.6 291.1 1270.0 292.2C1275.4 293.3 1282.6 295.0 1287.5 296.6C1292.4 298.2 1300.1 300.8 1305.0 303.6C1309.9 306.4 1317.6 312.9 1322.5 316.7C1327.4 320.5 1335.8 326.8 1340.0 330.7C1344.2 334.6 1348.8 340.8 1352.2 344.7C1355.6 348.6 1361.2 355.6 1364.4 358.7C1367.6 361.8 1372.2 365.0 1374.9 366.5C1377.6 368.0 1377.4 369.0 1383.7 369.5C1390.0 370.0 1409.0 369.8 1420.0 369.9C1431.0 370.0 1456.3 370.0 1462.2 370.0" fill="none" stroke="#62eef0" stroke-width="3.2" stroke-linejoin="round"/>
<path d="M963.7 324.8C967.4 324.8 985.3 325.0 990.0 325.1C994.7 325.2 992.6 325.7 997.0 325.8C1001.4 325.9 1014.6 325.9 1021.5 325.8C1028.4 325.7 1041.4 325.7 1046.0 325.4C1050.6 325.1 1051.3 326.3 1054.7 323.7C1058.1 321.1 1066.8 311.5 1070.5 307.1C1074.2 302.7 1077.5 296.7 1080.9 292.2C1084.3 287.7 1091.0 279.1 1094.9 274.7C1098.8 270.3 1105.2 264.2 1108.9 260.7C1112.6 257.2 1117.8 252.5 1121.2 249.4C1124.6 246.3 1129.7 241.1 1133.4 238.9C1137.1 236.7 1143.7 234.9 1147.4 233.6C1151.1 232.3 1154.8 230.3 1160.0 229.6C1165.2 228.9 1176.1 228.9 1184.5 228.6C1192.9 228.3 1211.0 226.8 1220.0 227.2C1229.0 227.6 1242.0 229.8 1249.0 231.2C1256.0 232.6 1264.6 235.3 1270.0 237.1C1275.4 238.9 1282.6 242.0 1287.5 244.1C1292.4 246.2 1300.1 248.9 1305.0 252.0C1309.9 255.1 1317.6 262.3 1322.5 266.0C1327.4 269.7 1336.3 275.0 1340.0 278.2C1343.7 281.4 1346.0 285.0 1348.7 288.7C1351.4 292.4 1356.3 300.4 1359.2 304.4C1362.1 308.4 1366.5 314.9 1369.7 317.6C1372.9 320.3 1378.7 322.6 1381.9 323.7C1385.1 324.8 1389.8 325.2 1392.4 325.4C1395.0 325.6 1398.8 325.3 1400.3 325.1C1401.8 324.9 1397.3 323.9 1402.9 323.7C1408.5 323.5 1429.8 323.7 1440.0 323.7C1450.2 323.7 1471.0 323.6 1476.0 323.6" fill="none" stroke="#1111cf" stroke-width="3.0" stroke-linejoin="round"/>
<path d="M963.7 275.6C967.4 275.6 981.8 275.6 990.0 275.6C998.2 275.6 1016.9 275.9 1022.4 275.6C1027.9 275.3 1027.3 274.8 1029.4 273.8C1031.5 272.8 1034.9 270.4 1037.2 268.6C1039.5 266.8 1043.5 263.8 1046.0 260.7C1048.5 257.6 1051.8 250.7 1054.7 246.7C1057.6 242.7 1063.3 235.8 1067.0 231.9C1070.7 228.0 1077.1 222.4 1081.0 218.7C1084.9 215.0 1090.5 208.9 1094.9 205.7C1099.3 202.5 1107.5 198.3 1112.4 196.0C1117.3 193.7 1125.0 190.8 1129.9 189.0C1134.8 187.2 1143.2 184.2 1147.4 182.9C1151.6 181.6 1154.8 180.2 1160.0 179.4C1165.2 178.6 1176.1 177.8 1184.5 177.3C1192.9 176.8 1210.8 175.8 1220.0 175.6C1229.2 175.4 1243.0 175.6 1250.0 175.8C1257.0 176.0 1265.2 176.7 1270.0 177.3C1274.8 177.9 1279.6 179.0 1284.0 179.8C1288.4 180.6 1297.1 181.6 1301.5 182.9C1305.9 184.2 1311.8 187.2 1315.5 189.0C1319.2 190.8 1324.8 193.7 1327.7 196.0C1330.6 198.3 1333.9 203.1 1336.5 205.7C1339.1 208.3 1343.5 212.3 1346.0 214.5C1348.5 216.7 1350.9 218.4 1354.0 221.2C1357.1 224.0 1365.0 230.9 1367.9 234.5C1370.8 238.1 1372.9 243.3 1374.9 246.7C1376.9 250.1 1379.1 255.4 1381.9 259.0C1384.7 262.6 1392.2 270.0 1395.1 272.1C1398.0 274.2 1399.4 273.6 1402.9 273.9C1406.4 274.2 1415.2 274.2 1420.0 274.3C1424.8 274.4 1434.6 274.4 1437.0 274.4" fill="none" stroke="#0a0a86" stroke-width="3.0" stroke-linejoin="round"/>
<path d="M963.7 226.4C967.4 226.4 984.4 226.6 990.0 226.6C995.6 226.6 1000.6 227.0 1004.0 226.4C1007.4 225.8 1011.8 224.0 1014.5 222.2C1017.2 220.4 1021.4 215.6 1023.2 213.5C1025.0 211.4 1025.1 211.0 1027.6 207.5C1030.0 204.0 1036.9 193.1 1040.7 188.2C1044.5 183.3 1050.8 176.6 1054.7 172.4C1058.6 168.2 1064.8 162.1 1068.7 158.4C1072.6 154.7 1079.0 149.4 1082.7 146.2C1086.4 143.0 1091.2 137.9 1094.9 135.7C1098.6 133.5 1105.0 131.7 1108.9 130.5C1112.8 129.3 1118.7 127.7 1122.9 127.0C1127.1 126.3 1133.5 125.9 1138.7 125.6C1143.9 125.3 1152.8 125.3 1160.0 125.2C1167.2 125.1 1181.6 125.0 1190.0 124.9C1198.4 124.8 1211.7 124.6 1220.0 124.8C1228.3 125.0 1242.0 125.9 1249.0 126.6C1256.0 127.3 1265.8 129.4 1270.0 130.1C1274.2 130.8 1275.0 130.4 1278.7 131.9C1282.4 133.4 1290.8 137.9 1296.2 140.9C1301.6 143.9 1312.3 149.5 1317.2 153.2C1322.1 156.9 1327.5 163.4 1331.2 167.2C1334.9 171.0 1339.8 176.4 1343.5 180.3C1347.2 184.2 1354.1 191.3 1357.5 195.2C1360.9 199.1 1364.5 204.8 1367.9 208.3C1371.3 211.8 1378.0 218.2 1381.9 220.5C1385.8 222.8 1391.2 224.2 1395.9 224.9C1400.6 225.6 1409.0 225.7 1415.2 225.8C1421.4 225.9 1431.5 225.6 1440.0 225.5C1448.5 225.4 1471.0 225.4 1476.0 225.4" fill="none" stroke="#0a7a7d" stroke-width="3.0" stroke-linejoin="round"/>
<path d="M963.7 174.6C967.4 174.6 984.5 174.6 990.0 174.5C995.5 174.4 1000.4 174.6 1003.1 173.8C1005.8 173.0 1007.1 170.8 1009.2 168.9C1011.3 167.0 1015.8 163.1 1018.0 160.2C1020.2 157.3 1022.8 151.8 1025.0 147.9C1027.2 144.0 1031.2 136.1 1033.7 132.2C1036.2 128.3 1040.0 123.2 1042.5 120.0C1045.0 116.8 1048.8 112.3 1051.2 109.5C1053.7 106.7 1057.5 102.2 1060.0 99.8C1062.5 97.3 1065.8 94.2 1068.7 92.0C1071.6 89.8 1077.2 86.1 1080.9 84.1C1084.6 82.1 1091.0 79.6 1094.9 78.0C1098.8 76.4 1104.5 73.9 1108.9 72.7C1113.3 71.5 1121.5 70.0 1126.4 69.2C1131.3 68.4 1139.2 67.6 1143.9 67.1C1148.6 66.6 1154.9 65.9 1160.0 65.4C1165.1 64.9 1174.4 64.2 1180.0 63.8C1185.6 63.4 1194.4 62.6 1200.0 62.2C1205.6 61.8 1213.0 60.8 1220.0 60.6C1227.0 60.4 1243.0 60.5 1250.0 60.8C1257.0 61.1 1264.8 62.0 1270.0 62.6C1275.2 63.2 1283.1 64.4 1287.5 65.4C1291.9 66.5 1297.6 68.5 1301.5 70.1C1305.4 71.7 1312.1 74.8 1315.5 77.1C1318.9 79.4 1323.3 84.0 1326.0 86.7C1328.7 89.4 1332.4 93.5 1334.7 96.3C1337.0 99.1 1340.4 104.6 1342.6 106.8C1344.8 109.0 1348.2 110.3 1350.5 112.1C1352.8 113.9 1356.8 117.2 1359.2 120.0C1361.6 122.8 1365.7 128.5 1367.9 132.2C1370.1 135.9 1372.9 141.8 1374.9 146.2C1376.9 150.6 1380.2 160.6 1381.9 163.7C1383.6 166.8 1385.4 166.6 1387.2 168.1C1389.0 169.6 1390.5 173.6 1395.1 174.5C1399.7 175.4 1410.6 174.5 1420.0 174.5C1429.4 174.5 1456.3 174.5 1462.2 174.5" fill="none" stroke="#000" stroke-width="2.6" stroke-linejoin="round"/>
<text x="1409.5" y="161.5" font-size="23" font-weight="bold" fill="#111" textLength="28.1" lengthAdjust="spacingAndGlyphs">(v)</text>
<text x="1410.6" y="214.0" font-size="23" font-weight="bold" fill="#0d6b12" textLength="36.0" lengthAdjust="spacingAndGlyphs">(iv)</text>
<text x="1412.0" y="261.5" font-size="23" font-weight="bold" fill="#1a3ea0" textLength="36.6" lengthAdjust="spacingAndGlyphs">(iii)</text>
<text x="1423.0" y="312.0" font-size="23" font-weight="bold" fill="#1616cc" textLength="29.5" lengthAdjust="spacingAndGlyphs">(ii)</text>
<text x="1427.0" y="358.5" font-size="23" font-weight="bold" fill="#3ce3ee" textLength="21.6" lengthAdjust="spacingAndGlyphs">(i)</text>
<path d="M985.7 882.5 v-7.4M985.7 493.2 v7.4M1021.0 882.5 v-3.6M1021.0 493.2 v3.6M1056.4 882.5 v-7.4M1056.4 493.2 v7.4M1091.7 882.5 v-3.6M1091.7 493.2 v3.6M1127.1 882.5 v-7.4M1127.1 493.2 v7.4M1162.4 882.5 v-3.6M1162.4 493.2 v3.6M1197.8 882.5 v-7.4M1197.8 493.2 v7.4M1233.1 882.5 v-3.6M1233.1 493.2 v3.6M1268.4 882.5 v-7.4M1268.4 493.2 v7.4M1303.8 882.5 v-3.6M1303.8 493.2 v3.6M1339.1 882.5 v-7.4M1339.1 493.2 v7.4M1374.5 882.5 v-3.6M1374.5 493.2 v3.6M1409.8 882.5 v-7.4M1409.8 493.2 v7.4M1445.2 882.5 v-3.6M1445.2 493.2 v3.6M952.1 841.1 h4.4M1479.5 841.1 h-4.4M952.1 797.3 h7.8M1479.5 797.3 h-7.8M952.1 753.5 h4.4M1479.5 753.5 h-4.4M952.1 709.6 h7.8M1479.5 709.6 h-7.8M952.1 665.8 h4.4M1479.5 665.8 h-4.4M952.1 621.9 h7.8M1479.5 621.9 h-7.8M952.1 578.0 h4.4M1479.5 578.0 h-4.4M952.1 534.2 h7.8M1479.5 534.2 h-7.8" stroke="#000" stroke-width="3.0" fill="none"/>
<rect x="950.2" y="491.3" width="531.1" height="393.1" fill="none" stroke="#000" stroke-width="3.7"/>
<text x="938.4" y="891.5" font-size="23.3" font-weight="bold" text-anchor="end">5</text>
<text x="938.4" y="803.8" font-size="23.3" font-weight="bold" text-anchor="end">10</text>
<text x="938.4" y="716.1" font-size="23.3" font-weight="bold" text-anchor="end">15</text>
<text x="938.4" y="628.4" font-size="23.3" font-weight="bold" text-anchor="end">20</text>
<text x="938.4" y="540.7" font-size="23.3" font-weight="bold" text-anchor="end">25</text>
<text x="985.4" y="913" font-size="23.3" font-weight="bold" text-anchor="middle" letter-spacing="0.8">30</text>
<text x="1056.1" y="913" font-size="23.3" font-weight="bold" text-anchor="middle" letter-spacing="0.8">35</text>
<text x="1126.8" y="913" font-size="23.3" font-weight="bold" text-anchor="middle" letter-spacing="0.8">40</text>
<text x="1197.5" y="913" font-size="23.3" font-weight="bold" text-anchor="middle" letter-spacing="0.8">45</text>
<text x="1268.1" y="913" font-size="23.3" font-weight="bold" text-anchor="middle" letter-spacing="0.8">50</text>
<text x="1338.8" y="913" font-size="23.3" font-weight="bold" text-anchor="middle" letter-spacing="0.8">55</text>
<text x="1409.5" y="913" font-size="23.3" font-weight="bold" text-anchor="middle" letter-spacing="0.8">60</text>
<text x="1480.2" y="913" font-size="23.3" font-weight="bold" text-anchor="middle" letter-spacing="0.8">65</text>
<text x="1124" y="961.4" font-size="32" font-weight="bold" textLength="181.3" lengthAdjust="spacing">Width (nm)</text>
<text transform="translate(892.4,787.6) rotate(-90)" font-size="33.4" font-weight="bold" textLength="192.5" lengthAdjust="spacing">height (nm)</text>
<text x="977.6" y="562.4" font-size="45" font-weight="bold" textLength="34.5" lengthAdjust="spacingAndGlyphs">c)</text>
<circle cx="1336.3" cy="559.8" r="6" fill="url(#sph)"/><circle cx="1362.0" cy="551.6" r="6" fill="url(#sph)"/><circle cx="1369.2" cy="555.7" r="6" fill="url(#sph)"/><circle cx="1357.9" cy="560.4" r="6" fill="url(#sph)"/><circle cx="1350.3" cy="570.1" r="6" fill="url(#sph)"/><circle cx="1402.8" cy="568.7" r="6" fill="url(#sph)"/><circle cx="1331.8" cy="599.9" r="6" fill="url(#sph)"/><circle cx="1341.9" cy="598.5" r="6" fill="url(#sph)"/><circle cx="1342.1" cy="616.4" r="6" fill="url(#sph)"/><circle cx="1272.6" cy="615.4" r="6" fill="url(#sph)"/><circle cx="1303.4" cy="621.1" r="6" fill="url(#sph)"/><circle cx="1313.3" cy="624.6" r="6" fill="url(#sph)"/><circle cx="1349.7" cy="626.7" r="6" fill="url(#sph)"/><circle cx="1357.5" cy="627.1" r="6" fill="url(#sph)"/><circle cx="1316.4" cy="635.3" r="6" fill="url(#sph)"/><circle cx="1326.0" cy="631.4" r="6" fill="url(#sph)"/><circle cx="1340.0" cy="637.0" r="6" fill="url(#sph)"/><circle cx="1329.1" cy="656.1" r="6" fill="url(#sph)"/><circle cx="1259.6" cy="638.0" r="6" fill="url(#sph)"/><circle cx="1273.2" cy="647.2" r="6" fill="url(#sph)"/><circle cx="1264.3" cy="653.8" r="6" fill="url(#sph)"/><circle cx="1242.7" cy="658.6" r="6" fill="url(#sph)"/><circle cx="1252.4" cy="661.6" r="6" fill="url(#sph)"/><circle cx="1240.7" cy="665.1" r="6" fill="url(#sph)"/><circle cx="1282.2" cy="671.3" r="6" fill="url(#sph)"/><circle cx="1237.6" cy="679.1" r="6" fill="url(#sph)"/><circle cx="1245.8" cy="677.7" r="6" fill="url(#sph)"/><circle cx="1244.2" cy="685.7" r="6" fill="url(#sph)"/><circle cx="1217.0" cy="693.5" r="6" fill="url(#sph)"/><circle cx="1263.9" cy="696.0" r="6" fill="url(#sph)"/><circle cx="1186.6" cy="710.4" r="6" fill="url(#sph)"/><circle cx="1199.5" cy="711.0" r="6" fill="url(#sph)"/><circle cx="1200.6" cy="728.5" r="6" fill="url(#sph)"/><circle cx="1054.2" cy="782.6" r="6" fill="url(#sph)"/><circle cx="1047.8" cy="799.4" r="6" fill="url(#sph)"/><circle cx="1142.0" cy="735.7" r="6" fill="url(#sph)"/><circle cx="1157.1" cy="763.4" r="6" fill="url(#sph)"/><circle cx="1169.2" cy="781.5" r="6" fill="url(#sph)"/><circle cx="1173.9" cy="734.2" r="6" fill="url(#sph)"/><circle cx="1183.2" cy="739.4" r="6" fill="url(#sph)"/>
<path d="M989 858.7L1431.6 543.2" stroke="#e8000c" stroke-width="3.2" fill="none"/>
<text x="1285" y="784.6" font-size="32" font-weight="bold" fill="#f50f0f" textLength="12" lengthAdjust="spacingAndGlyphs">r</text>
<text x="1299.5" y="792.6" font-size="21" font-weight="bold" fill="#f50f0f" textLength="26" lengthAdjust="spacingAndGlyphs">tip</text>
<text x="1327.5" y="784.6" font-size="32" font-weight="bold" fill="#f50f0f" textLength="17.5" lengthAdjust="spacingAndGlyphs">=</text>
<text x="1356.5" y="784.6" font-size="32" font-weight="bold" fill="#f50f0f" textLength="36.5" lengthAdjust="spacingAndGlyphs">15</text>
<text x="1404.4" y="784.6" font-size="32" font-weight="bold" fill="#f50f0f" textLength="50" lengthAdjust="spacingAndGlyphs">nm</text>
<text x="1316" y="831.5" font-size="32" fill="#f50f0f" textLength="14.5" lengthAdjust="spacingAndGlyphs">γ</text>
<text x="1341.3" y="831.5" font-size="32" font-weight="bold" fill="#f50f0f" textLength="17.5" lengthAdjust="spacingAndGlyphs">=</text>
<text x="1369" y="831.5" font-size="32" font-weight="bold" fill="#f50f0f" textLength="33.5" lengthAdjust="spacingAndGlyphs">19</text>
<text x="1404" y="820.8" font-size="24" font-weight="bold" fill="#f50f0f" textLength="18" lengthAdjust="spacingAndGlyphs">o</text>
</svg></body></html>
